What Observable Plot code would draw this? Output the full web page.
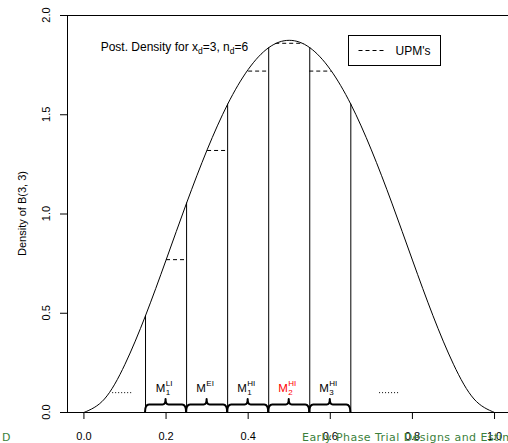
<!DOCTYPE html>
<html><head><meta charset="utf-8">
<script src="https://cdn.jsdelivr.net/npm/d3@7"></script>
<script src="https://cdn.jsdelivr.net/npm/@observablehq/plot@0.6"></script>
<style>
html,body{margin:0;padding:0;background:#fff;overflow:hidden}
#wrap{position:relative;width:508px;height:443px}
</style></head><body><div id="wrap"></div>
<script>
// ---- data ----
const curveX = [0, 0.05, 0.1, 0.15, 0.2, 0.25, 0.3, 0.35, 0.4, 0.45, 0.5, 0.55, 0.6, 0.65, 0.7, 0.75, 0.8, 0.85, 0.9, 0.95, 1];
const curveY = [0, 0.068, 0.243, 0.488, 0.768, 1.055, 1.323, 1.553, 1.728, 1.838, 1.875, 1.838, 1.728, 1.553, 1.323, 1.055, 0.768, 0.488, 0.243, 0.068, 0];
const xEdges = [0.15, 0.25, 0.35, 0.45, 0.55, 0.65];
const upmValues = [0.77, 1.32, 1.72, 1.86, 1.72];
const intervalSup = ["LI", "EI", "HI", "HI", "HI"];
const intervalSub = ["1", "", "1", "2", "3"];
const intervalHighlight = [false, false, false, true, false];
const dotStart = [0.07, 0.72];
const dotEnd = [0.12, 0.77];
const dotLevel = [0.10, 0.10];
const xTicks = [0, 0.2, 0.4, 0.6, 0.8, 1.0];
const yTicks = [0, 0.5, 1.0, 1.5, 2.0];
const yLabel = "Density of B(3, 3)";
const legendLabel = "UPM's";
const footerLeft = "D";
const footerRight = "Early Phase Trial Designs and Estimation";

// ---- derived tables ----
const curve = curveX.map((x, i) => ({x, y: curveY[i]}));
const edges = xEdges.map(x => ({x, y: curveY[curveX.indexOf(x)]}));
const intervals = upmValues.map((u, i) => ({
  a: xEdges[i], b: xEdges[i + 1], upm: u,
  sup: intervalSup[i], sub: intervalSub[i], red: intervalHighlight[i]
}));
const dots = dotStart.map((s, i) => ({x1: s, x2: dotEnd[i], y: dotLevel[i]}));

const FONT = '"Liberation Sans", Arial, Helvetica, sans-serif';
const Y_MAX = 2;

const measureCtx = document.createElement("canvas").getContext("2d");
function textWidth(s, size) { measureCtx.font = `${size}px "Liberation Sans", Arial, sans-serif`; return measureCtx.measureText(s).width; }

function annotations(index, scales, values, dimensions) {
  const {x, y} = scales;
  const g = d3.create("svg:g").attr("font-family", FONT).attr("text-anchor", "start").attr("fill", "black");
  const y0 = y(0);
  // braces under each interval
  for (const iv of intervals) {
    const x0 = x(iv.a), x1 = x(iv.b), xm = (x0 + x1) / 2;
    const hy = y0 - 7.5, py = y0 - 13;
    g.append("path")
      .attr("d", `M${x0},${y0}Q${x0},${hy} ${x0 + 4},${hy}L${xm - 3},${hy}Q${xm},${hy} ${xm},${py}Q${xm},${hy} ${xm + 3},${hy}L${x1 - 4},${hy}Q${x1},${hy} ${x1},${y0}`)
      .attr("fill", "none").attr("stroke", "black").attr("stroke-width", 2)
      .attr("stroke-linejoin", "round");
  }
  // interval labels M_sub^sup
  for (const iv of intervals) {
    const cx = x((iv.a + iv.b) / 2) - 1.5, by = y(0.10);
    const mw = textWidth("M", 11.5);
    const sw = Math.max(textWidth(iv.sup, 8), iv.sub ? textWidth(iv.sub, 8) : 0);
    const left = cx - (mw + 0.5 + sw) / 2;
    const col = iv.red ? "#ff0000" : "#000000";
    g.append("text").attr("x", left).attr("y", by).attr("font-size", 11.5).attr("fill", col).text("M");
    g.append("text").attr("x", left + mw + 0.5).attr("y", by - 6).attr("font-size", 8).attr("fill", col).text(iv.sup);
    if (iv.sub) g.append("text").attr("x", left + mw + 0.5).attr("y", by + 2.5).attr("font-size", 8).attr("fill", col).text(iv.sub);
  }
  // title text inside plot
  const t = g.append("text").attr("x", x(0.042)).attr("y", y(1.84) + 4)
    .attr("font-size", 12);
  t.append("tspan").text("Post. Density for x");
  t.append("tspan").attr("font-size", 8.5).attr("dy", 3).text("d");
  t.append("tspan").attr("dy", -3).text("=3, n");
  t.append("tspan").attr("font-size", 8.5).attr("dy", 3).text("d");
  t.append("tspan").attr("dy", -3).text("=6");
  // legend
  const L = Math.round(x(0.644)) + 0.5, T = Math.round(y(1.9)) + 0.5;
  g.append("rect").attr("x", L).attr("y", T).attr("width", 92).attr("height", 30)
    .attr("fill", "white").attr("stroke", "black").attr("stroke-width", 1);
  g.append("line").attr("x1", L + 10).attr("x2", L + 37).attr("y1", T + 15).attr("y2", T + 15)
    .attr("stroke", "black").attr("stroke-dasharray", "4,3");
  g.append("text").attr("x", L + 47).attr("y", T + 19).attr("font-size", 12).text(legendLabel);
  // y tick labels (rotated, R style)
  for (const v of yTicks) {
    g.append("text").attr("transform", `translate(50,${y(v)}) rotate(-90)`)
      .attr("text-anchor", "middle").attr("font-size", 11).text(v.toFixed(1));
  }
  // y axis label
  g.append("text").attr("transform", `translate(26,${(y(0) + y(Y_MAX)) / 2}) rotate(-90)`)
    .attr("text-anchor", "middle").attr("font-size", 11).text(yLabel);
  // footer (slide artefacts)
  const ft = g.append("g").attr("font-family", '"DejaVu Sans", sans-serif').attr("font-size", 11).attr("fill", "#3b7f3b");
  ft.append("text").attr("x", 2).attr("y", 441).text(footerLeft);
  ft.append("text").attr("x", 302).attr("y", 441).attr("letter-spacing", 0.45).text(footerRight);
  return g.node();
}

const plot = Plot.plot({
  width: 508, height: 443,
  marginLeft: 67, marginRight: 0, marginTop: 15, marginBottom: 31,
  style: {fontFamily: FONT, fontSize: "11px", background: "white", color: "black"},
  x: {domain: [-0.04, 1.034], ticks: xTicks, tickFormat: d3.format(".1f"), tickSize: 7, tickPadding: 13, label: null},
  y: {domain: [0, Y_MAX], ticks: yTicks, tickFormat: () => "", tickSize: 7, label: null},
  marks: [
    Plot.ruleY(intervals, {x1: "a", x2: "b", y: "upm", stroke: "black", strokeWidth: 1, strokeDasharray: "4,3"}),
    Plot.area(curve, {x1: "x", y1: "y", y2: () => Y_MAX, fill: "white", curve: "natural"}),
    Plot.ruleX(edges, {x: "x", y1: 0, y2: "y", stroke: "black", strokeWidth: 1}),
    Plot.line(curve, {x: "x", y: "y", curve: "natural", stroke: "black", strokeWidth: 1}),
    Plot.ruleY(dots, {x1: "x1", x2: "x2", y: "y", stroke: "black", strokeWidth: 1, strokeDasharray: "1,2"}),
    Plot.ruleY([0, Y_MAX], {stroke: "black", strokeWidth: 1}),
    Plot.ruleX([-0.04], {stroke: "black", strokeWidth: 1}),
    annotations
  ]
});
document.getElementById("wrap").appendChild(plot);
</script>
</body></html>
